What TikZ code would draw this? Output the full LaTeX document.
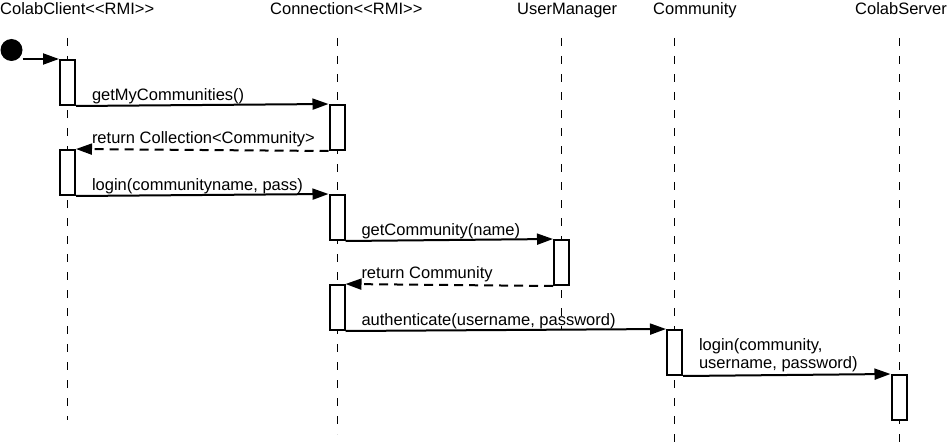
\documentclass[tikz,border=0pt]{standalone}
\usepackage{fontspec}
\setmainfont{Liberation Sans}
\usetikzlibrary{arrows.meta}

\begin{document}
\begin{tikzpicture}[x=1pt, y=-1pt, font=\fontsize{16.5}{18}\selectfont,
	head/.style={anchor=base west, inner sep=0pt},
	life/.style={line width=1pt, dash pattern=on 8pt off 10pt},
	act/.style={draw, fill=white, line width=2pt, minimum width=15pt, minimum height=45pt, inner sep=0pt},
	msg/.style={line width=2pt, -{Triangle[length=16pt, width=11pt]}},
	ret/.style={msg, dash pattern=on 9pt off 6pt},
	lbl/.style={anchor=base west, inner sep=0pt, xshift=15pt, yshift=6pt}]
	\useasboundingbox (0,0) rectangle (950,444);
	% objects
	\node [head] (client) at (0,15) {ColabClient<{}<RMI>{}>};
	\node [head] (conn) at (270,15) {Connection<{}<RMI>{}>};
	\node [head] (umgr) at (517,15) {UserManager};
	\node [head] (comm) at (653,15) {Community};
	\node [head] (server) at (855,15) {ColabServer};
	\foreach \x/\e in {67.5/420, 337/434, 561.5/330, 674.5/444, 899/444}
		\draw [life] (\x,38) -- (\x,\e);
	% activations
	\node [act] (a1) at (67.5,82.5) {};
	\node [act] (c1) at (337,127.5) {};
	\node [act] (a2) at (67.5,172.5) {};
	\node [act] (c2) at (337,217.5) {};
	\node [act] (u1) at (561.5,262.5) {};
	\node [act] (c3) at (337,307.5) {};
	\node [act] (m1) at (674.5,352.5) {};
	\node [act] (s1) at (899,397.5) {};
	% start
	\node [circle, fill, minimum size=22pt, inner sep=0pt] (start) at (11.5,50) {};
	\draw [msg] (start.east |- a1.north west) -- (a1.north west);
	% messages
	\draw [msg] (a1.south east) -- (c1.north west) node [lbl, at start] {getMyCommunities()};
	\draw [ret] (c1.south west) -- (a2.north east) node [lbl, at end] {return Collection<Community>};
	\draw [msg] (a2.south east) -- (c2.north west) node [lbl, at start] {login(communityname, pass)};
	\draw [msg] (c2.south east) -- (u1.north west) node [lbl, at start] {getCommunity(name)};
	\draw [ret] (u1.south west) -- (c3.north east) node [lbl, at end] {return Community};
	\draw [msg] (c3.south east) -- (m1.north west) node [lbl, at start] {authenticate(username, password)};
	\draw [msg] (m1.south east) -- (s1.north west) node [lbl, at start, anchor=south west, align=left, yshift=-3pt] {login(community,\\username, password)};
\end{tikzpicture}
\end{document}
